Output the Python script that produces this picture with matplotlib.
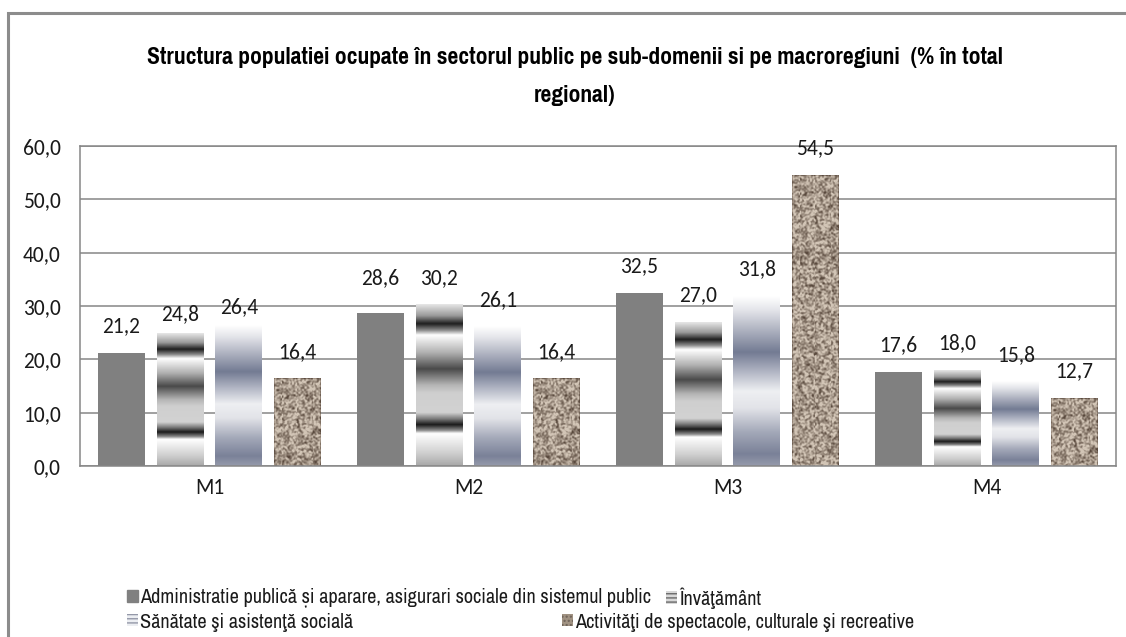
import numpy as np
import matplotlib
matplotlib.use("Agg")
from matplotlib import pyplot as plt
from matplotlib import patches

# data
regions = ["M1", "M2", "M3", "M4"]
series_names = [
    "Administratie publică și aparare, asigurari sociale din sistemul public",
    "Învăţământ",
    "Sănătate şi asistenţă socială",
    "Activităţi de spectacole, culturale şi recreative",
]
administratie = [21.2, 28.6, 32.5, 17.6]
invatamant = [24.8, 30.2, 27.0, 18.0]
sanatate = [26.4, 26.1, 31.8, 15.8]
activitati = [16.4, 16.4, 54.5, 12.7]
yticks = [0, 10, 20, 30, 40, 50, 60]

# baseline of each value label above its bar top (points), series x region
label_dy = [
    [15, 21, 15, 15],
    [10, 15, 15, 15],
    [9, 15, 15, 15],
    [15, 15, 15, 15],
]

title_font = ["Pragati Narrow", "PT Sans Narrow", "Asap Condensed", "Liberation Sans", "DejaVu Sans"]
narrow = ["Arial Narrow", "Archivo Narrow", "Roboto Condensed", "Liberation Sans", "DejaVu Sans"]
numfont = ["Carlito", "Lato", "DejaVu Sans"]
grid_c = "#868686"


def gradient(stops):
    # stops: (fraction from top, hex colour)
    t = np.linspace(0, 1, 256)
    fr = [s[0] for s in stops]
    rgb = np.array([matplotlib.colors.to_rgb(s[1]) for s in stops])
    img = np.stack([np.interp(t, fr, rgb[:, c]) for c in range(3)], axis=1)
    return img[:, None, :]


metal = gradient([
    (0.00, "#e6e6e6"), (0.07, "#9a9a9a"), (0.12, "#1e1e1e"), (0.16, "#8a8a8a"),
    (0.19, "#ffffff"), (0.30, "#b0b0b0"), (0.40, "#4a4a4a"), (0.50, "#b5b5b5"),
    (0.55, "#cfcfcf"), (0.67, "#d2d2d2"), (0.71, "#7a7a7a"), (0.745, "#1a1a1a"),
    (0.78, "#8a8a8a"), (0.80, "#ffffff"), (0.92, "#d0d0d0"), (1.00, "#a8a8a8"),
])
steel = gradient([
    (0.00, "#ffffff"), (0.08, "#e4e5ea"), (0.20, "#aeb2c0"), (0.33, "#737b93"),
    (0.45, "#b4b8c6"), (0.56, "#eeeff2"), (0.66, "#e2e3e8"), (0.80, "#a4a9b9"),
    (0.93, "#7a8198"), (1.00, "#959aab"),
])

# granite-like texture (fixed seed, purely decorative)
rng = np.random.default_rng(7)
noise = rng.random((330, 50))
k = np.array([0.25, 0.5, 0.25])
noise = np.apply_along_axis(lambda r: np.convolve(r, k, mode="same"), 0, noise)
noise = np.apply_along_axis(lambda r: np.convolve(r, k, mode="same"), 1, noise)
noise = (noise - noise.min()) / (noise.max() - noise.min())
noise = np.clip((noise - 0.5) * 1.7 + 0.6, 0, 1)
dark = np.array(matplotlib.colors.to_rgb("#5a4a3e"))
light = np.array(matplotlib.colors.to_rgb("#d2c5b6"))
granite = dark + noise[..., None] * (light - dark)

fig = plt.figure(figsize=(11.26, 6.37), dpi=100)
fig.patch.set_facecolor("white")

# outer chart border
fig.add_artist(patches.Rectangle((8 / 1126, -0.05), 1.2, 1 - 13 / 637 + 0.05,
                                 transform=fig.transFigure, fill=False,
                                 edgecolor="#8c8c8c", lw=2.2))

ax = fig.add_axes([80 / 1126, 1 - 466 / 637, 1036 / 1126, 320 / 637])

x = np.arange(len(regions))
pitch = 0.2265
width = 0.181
all_series = [administratie, invatamant, sanatate, activitati]
fills = ["#808080", metal, steel, granite]

for i, (vals, fill) in enumerate(zip(all_series, fills)):
    xs = x + (i - 1.5) * pitch
    if isinstance(fill, str):
        ax.bar(xs, vals, width, color=fill, zorder=2)
    else:
        bars = ax.bar(xs, vals, width, color="none", zorder=2)
        for b, v in zip(bars, vals):
            x0 = b.get_x()
            if fill is granite:
                rows = max(2, int(round(v / 60 * 320)))
                img = fill[:rows]
                interp = "nearest"
            else:
                img = fill
                interp = "bilinear"
            ax.imshow(img, extent=(x0, x0 + width, 0, v), aspect="auto",
                      interpolation=interp, zorder=2)
    for j, (xx, v) in enumerate(zip(xs, vals)):
        ax.annotate(f"{v:.1f}".replace(".", ","), (xx, v),
                    xytext=(0, label_dy[i][j]), textcoords="offset points",
                    ha="center", va="baseline", fontsize=15.5, family=numfont,
                    color="#1a1a1a")

ax.set_xlim(-0.5, 3.5)
ax.set_ylim(0, 60)
ax.set_yticks(yticks)
ax.set_yticklabels([f"{t:.1f}".replace(".", ",") for t in yticks],
                   family=numfont, fontsize=15.5, color="#1a1a1a")
ax.set_xticks(x)
ax.set_xticklabels(regions, family=numfont, fontsize=15.5, color="#1a1a1a")
ax.tick_params(axis="both", length=0)
ax.tick_params(axis="y", pad=14)
ax.tick_params(axis="x", pad=9)
ax.grid(axis="y", color=grid_c, lw=1.1, zorder=1)
ax.set_axisbelow(True)
for s in ax.spines.values():
    s.set_color(grid_c)
    s.set_linewidth(1.1)

fig.text(575 / 1126, 1 - 58 / 637,
         "Structura populatiei ocupate în sectorul public pe sub-domenii si pe macroregiuni  (% în total",
         ha="center", va="center", fontsize=18.5, fontweight="bold",
         family=title_font)
fig.text(575 / 1126, 1 - 95 / 637, "regional)",
         ha="center", va="center", fontsize=18.5, fontweight="bold",
         family=title_font)

handles = [
    patches.Patch(facecolor="#808080", edgecolor="#808080"),
    patches.Patch(facecolor="#d8d8d8", edgecolor="#6a6a6a", hatch="----", lw=0),
    patches.Patch(facecolor="#eceef2", edgecolor="#9498a8", hatch="----", lw=0),
    patches.Patch(facecolor="#a09282", edgecolor="#6e6258", hatch="....", lw=0),
]
anchors = [(127, 598), (666, 598), (127, 622), (562, 622)]
for h, name, (ax_x, ax_y) in zip(handles, series_names, anchors):
    fig.legend(handles=[h], labels=[name], loc="center left",
               bbox_to_anchor=(ax_x / 1126, 1 - ax_y / 637), frameon=False,
               borderpad=0, borderaxespad=0, handlelength=0.55,
               handleheight=0.55, handletextpad=0.08,
               prop={"family": narrow, "size": 14.6}, labelcolor="#1a1a1a")

fig.savefig("out.png", dpi=100)
